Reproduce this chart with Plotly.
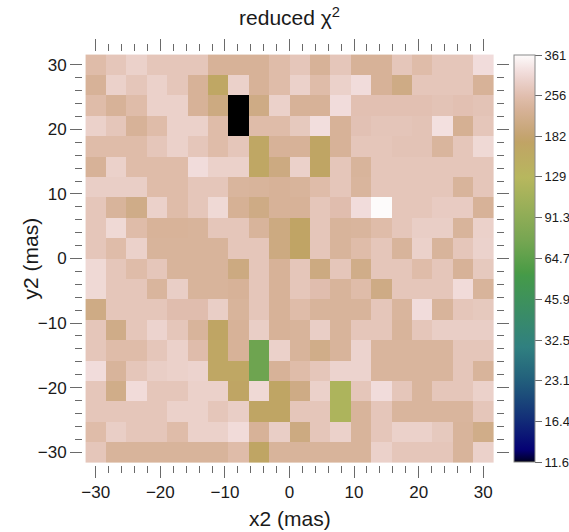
import numpy as np
import plotly.graph_objects as go

# Grid of offsets (mas): 20 x 20 cells, rows listed from top (y = +30) to bottom (y = -30)
x_centers = np.linspace(-30, 30, 20)
y_centers = np.linspace(30, -30, 20)

# Reduced chi^2 map
chi2 = [
    [250, 270, 290, 270, 270, 270, 228, 228, 228, 250, 270, 228, 270, 228, 228, 270, 250, 270, 270, 312],
    [228, 290, 270, 290, 270, 228, 165, 290, 228, 250, 290, 250, 290, 312, 228, 205, 270, 270, 270, 228],
    [250, 228, 250, 290, 290, 228, 200, 11.6, 205, 290, 228, 228, 312, 260, 260, 260, 260, 265, 260, 265],
    [290, 270, 228, 250, 290, 290, 250, 11.6, 250, 250, 275, 315, 228, 262, 268, 268, 265, 318, 222, 270],
    [250, 250, 250, 270, 290, 270, 250, 270, 165, 228, 228, 168, 228, 270, 270, 265, 265, 235, 270, 305],
    [228, 290, 250, 250, 250, 312, 290, 290, 165, 200, 290, 168, 270, 232, 270, 270, 270, 270, 270, 270],
    [285, 285, 285, 250, 250, 270, 270, 235, 232, 228, 232, 250, 270, 235, 270, 270, 270, 270, 232, 270],
    [270, 232, 208, 290, 250, 270, 305, 225, 205, 228, 228, 270, 255, 312, 361, 270, 270, 280, 280, 228],
    [270, 305, 250, 230, 230, 232, 270, 270, 232, 200, 172, 270, 232, 235, 250, 270, 285, 285, 232, 290],
    [270, 250, 290, 232, 232, 232, 232, 270, 270, 200, 172, 270, 232, 250, 270, 232, 290, 232, 270, 292],
    [305, 270, 250, 270, 232, 232, 232, 200, 270, 228, 270, 200, 270, 210, 270, 270, 250, 270, 228, 275],
    [305, 270, 270, 235, 285, 232, 232, 228, 270, 228, 270, 255, 232, 250, 205, 270, 270, 270, 310, 232],
    [205, 270, 270, 270, 255, 255, 285, 232, 270, 228, 250, 232, 232, 232, 270, 235, 312, 232, 270, 275],
    [270, 208, 270, 295, 270, 232, 168, 228, 285, 228, 232, 285, 232, 270, 270, 232, 270, 285, 285, 285],
    [270, 250, 250, 270, 290, 252, 165, 228, 72, 290, 232, 210, 232, 295, 235, 235, 235, 235, 270, 270],
    [312, 232, 270, 285, 290, 295, 165, 165, 72, 228, 250, 270, 295, 295, 235, 235, 235, 235, 270, 232],
    [270, 210, 310, 270, 270, 290, 290, 168, 305, 168, 205, 290, 118, 270, 312, 270, 235, 270, 270, 290],
    [270, 270, 270, 270, 290, 290, 270, 285, 168, 168, 270, 270, 118, 232, 270, 235, 235, 235, 235, 270],
    [250, 285, 270, 270, 250, 290, 290, 310, 228, 285, 200, 270, 290, 232, 270, 290, 290, 275, 232, 210],
    [270, 232, 232, 232, 232, 232, 232, 250, 168, 232, 232, 232, 232, 232, 290, 270, 270, 270, 232, 290],
]

# Colour-bar labels (log spaced)
cbar_ticks = [11.6, 16.4, 23.1, 32.5, 45.9, 64.7, 91.3, 129, 182, 256, 361]
cbar_text = ["11.6", "16.4", "23.1", "32.5", "45.9", "64.7", "91.3", "129", "182", "256", "361"]
z_lo, z_hi = 11.6, 361

# gist_earth segment data -> plotly colorscale
_red = [(0.0, 0.0), (0.2824, 0.1882), (0.4588, 0.2714), (0.5490, 0.4719),
        (0.6980, 0.7176), (0.7882, 0.7553), (1.0, 0.9922)]
_green = [(0.0, 0.0), (0.0275, 0.0), (0.1098, 0.1893), (0.1647, 0.3035),
          (0.2078, 0.3841), (0.2824, 0.5020), (0.5216, 0.6397), (0.6980, 0.7171),
          (0.7882, 0.6392), (0.7922, 0.6413), (0.8000, 0.6447), (0.8078, 0.6481),
          (0.8157, 0.6549), (0.8667, 0.6991), (0.8745, 0.7103), (0.8824, 0.7216),
          (0.8902, 0.7323), (0.8980, 0.7430), (0.9412, 0.8275), (0.9569, 0.8635),
          (0.9647, 0.8816), (0.9961, 0.9733), (1.0, 0.9843)]
_blue = [(0.0, 0.0), (0.0039, 0.1684), (0.0078, 0.2212), (0.0275, 0.4329),
         (0.0314, 0.4549), (0.2824, 0.5004), (0.4667, 0.2748), (0.5451, 0.3205),
         (0.7843, 0.3961), (0.8941, 0.6651), (1.0, 0.9843)]


def _channel(seg, t):
    xs, ys = zip(*seg)
    return np.interp(t, xs, ys)


stops = sorted(set([p[0] for p in _red + _green + _blue]))
gist_earth = []
for t in stops:
    r, g, b = (int(round(255 * _channel(s, t))) for s in (_red, _green, _blue))
    gist_earth.append([t, f"rgb({r},{g},{b})"])

font_family = "Liberation Sans, Arial, Helvetica, sans-serif"
tick_col = "#6a6a6a"
text_col = "#1a1a1a"

# plot-area geometry (px)
L, R, T, B = 83, 73, 52, 67
W, H = 569, 532
PW, PH = W - L - R, H - T - B

half = 31.58 + 0.4  # cell edges plus a small gap before the tick marks

fig = go.Figure(
    go.Heatmap(
        x=x_centers,
        y=y_centers,
        z=np.log10(np.array(chi2, dtype=float)),
        zmin=np.log10(z_lo),
        zmax=np.log10(z_hi),
        colorscale=gist_earth,
        showscale=True,
        colorbar=dict(
            x=(514 - L) / PW,
            xanchor="left",
            xpad=0,
            y=0.5,
            yanchor="middle",
            ypad=0,
            len=407,
            lenmode="pixels",
            thickness=21,
            thicknessmode="pixels",
            outlinewidth=1,
            outlinecolor="#8a8a8a",
            tickvals=np.log10(cbar_ticks),
            ticktext=cbar_text,
            ticks="outside",
            ticklen=7,
            tickwidth=1,
            tickcolor=tick_col,
            tickfont=dict(family=font_family, size=13, color=text_col),
        ),
    )
)

axis_common = dict(
    range=[-half, half],
    tickmode="array",
    tickvals=[-30, -20, -10, 0, 10, 20, 30],
    ticks="outside",
    ticklen=12,
    tickwidth=1,
    tickcolor=tick_col,
    mirror="allticks",
    showline=False,
    showgrid=False,
    zeroline=False,
    minor=dict(dtick=2, tick0=0, ticks="outside", ticklen=7, tickwidth=1,
               tickcolor=tick_col, showgrid=False),
    tickfont=dict(family=font_family, size=17, color=text_col),
)

title_font = dict(family=font_family, size=21, color=text_col)

fig.update_layout(
    width=W,
    height=H,
    margin=dict(l=L, r=R, t=T, b=B, autoexpand=False),
    paper_bgcolor="white",
    plot_bgcolor="white",
    title=dict(
        text="reduced χ<sup>2</sup>",
        x=(L + PW / 2) / W,
        xanchor="center",
        y=1 - 18 / H,
        yanchor="middle",
        font=dict(family=font_family, size=21, color=text_col),
    ),
    xaxis=axis_common,
    yaxis=axis_common,
    annotations=[
        dict(text="x2 (mas)", xref="paper", yref="paper",
             x=0.5, y=-(518 - (T + PH)) / PH, xanchor="center", yanchor="middle",
             showarrow=False, font=title_font),
        dict(text="y2 (mas)", xref="paper", yref="paper",
             x=-(L - 30) / PW, y=0.5, xanchor="center", yanchor="middle",
             textangle=-90, showarrow=False, font=title_font),
    ],
)

fig.write_html("out.html")
